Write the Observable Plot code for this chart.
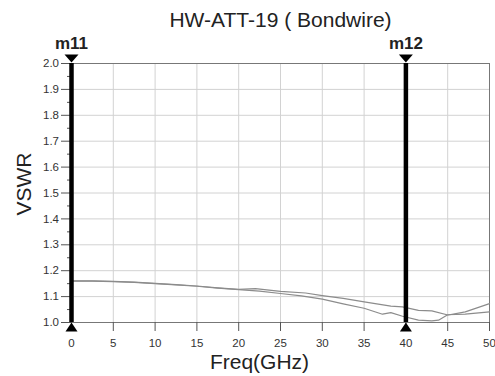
<!DOCTYPE html>
<html><head><meta charset="utf-8">
<script src="https://cdn.jsdelivr.net/npm/d3@7"></script>
<script src="https://cdn.jsdelivr.net/npm/@observablehq/plot@0.6"></script>
<style>body{margin:0;background:#fff;} svg{display:block;}</style>
</head><body>
<div id="chart"></div>
<script>
const title = "HW-ATT-19 ( Bondwire)";
const xLabel = "Freq(GHz)";
const yLabel = "VSWR";
const xTicks = [0,5,10,15,20,25,30,35,40,45,50];
const yTicks = [1.0,1.1,1.2,1.3,1.4,1.5,1.6,1.7,1.8,1.9,2.0];
const yMinor = [1.05,1.15,1.25,1.35,1.45,1.55,1.65,1.75,1.85,1.95];
// Series A: dips near 43 GHz, rises steeply to 50 GHz
const freqA = [0,2.5,5,7.5,10,12.5,15,17.5,20,22.5,25,27.5,30,32.5,35,37.2,38.2,39.6,41.5,43.1,43.9,44.9,47.1,50];
const vswrA = [1.160,1.160,1.158,1.155,1.150,1.145,1.140,1.133,1.127,1.121,1.112,1.103,1.090,1.072,1.055,1.032,1.038,1.024,1.009,1.006,1.009,1.028,1.041,1.073];
// Series B: stays higher until ~45 GHz
const freqB = [0,2.5,5,7.5,10,12.5,15,17.5,20,22,25,28,30,32.5,35.2,38.2,39.6,41.5,43.1,44.9,47.1,50];
const vswrB = [1.161,1.161,1.159,1.156,1.151,1.146,1.141,1.134,1.128,1.131,1.120,1.114,1.104,1.093,1.079,1.063,1.060,1.047,1.045,1.030,1.032,1.041];
const markerNames = ["m11","m12"];
const markerFreq = [0,40];

const seriesA = freqA.map((f,i)=>({f, v:vswrA[i]}));
const seriesB = freqB.map((f,i)=>({f, v:vswrB[i]}));
const markers = markerNames.map((name,i)=>({name, f:markerFreq[i]}));

// marker glyph shapes (apex at the anchor point)
const triDown = {draw(ctx){ ctx.moveTo(-7,-8); ctx.lineTo(7,-8); ctx.lineTo(0,0); ctx.closePath(); }};
const triUp = {draw(ctx){ ctx.moveTo(0,0); ctx.lineTo(6,9); ctx.lineTo(-6,9); ctx.closePath(); }};

const font = "'Liberation Sans', Arial, sans-serif";
const chart = Plot.plot({
  width: 495, height: 376,
  marginLeft: 71, marginRight: 6, marginTop: 63, marginBottom: 54,
  style: {fontFamily: font, background: "#fff"},
  x: {domain: [0,50]},
  y: {domain: [1.0,2.0]},
  marks: [
    Plot.gridX(xTicks, {stroke: "#d2d2d2", strokeOpacity: 1}),
    Plot.gridY(yTicks, {stroke: "#d2d2d2", strokeOpacity: 1}),
    Plot.frame({stroke: "#777"}),
    Plot.axisY(yMinor, {tickSize: 4, text: null, stroke: "#555", label: null}),
    Plot.axisY(yTicks, {tickSize: 10, tickPadding: 2.5, tickFormat: d => d.toFixed(1), fontSize: 11.5, fill: "#333", stroke: "#555", label: null}),
    Plot.axisX(xTicks, {tickSize: 9, tickPadding: 7, fontSize: 11.5, fill: "#333", stroke: "#555", label: null}),
    Plot.line(seriesB, {x: "f", y: "v", stroke: "#8c8c8c", strokeWidth: 1.2}),
    Plot.line(seriesA, {x: "f", y: "v", stroke: "#8c8c8c", strokeWidth: 1.2}),
    Plot.ruleX(markers, {x: "f", y1: 1.0, y2: 2.0, stroke: "#000", strokeWidth: 4.5}),
    Plot.dot(markers, {x: "f", y: 2.0, symbol: triDown, fill: "#000", stroke: null, dy: -1}),
    Plot.dot(markers, {x: "f", y: 1.0, symbol: triUp, fill: "#000", stroke: null, dy: 0}),
    Plot.text(markers, {x: "f", y: 2.0, text: "name", dy: -20, fontSize: 17, fontWeight: "bold", fill: "#222"}),
    Plot.text([title], {frameAnchor: "top", lineAnchor: "middle", dy: -43, fontSize: 21, fill: "#222"}),
    Plot.text([xLabel], {frameAnchor: "bottom", lineAnchor: "middle", textAnchor: "middle", dy: 40, dx: -21, fontSize: 21, fill: "#222"}),
    Plot.text([yLabel], {frameAnchor: "left", lineAnchor: "middle", textAnchor: "middle", dx: -47, dy: -9, rotate: -90, fontSize: 21, fill: "#222"})
  ]
});
document.getElementById("chart").appendChild(chart);
</script>
</body></html>
